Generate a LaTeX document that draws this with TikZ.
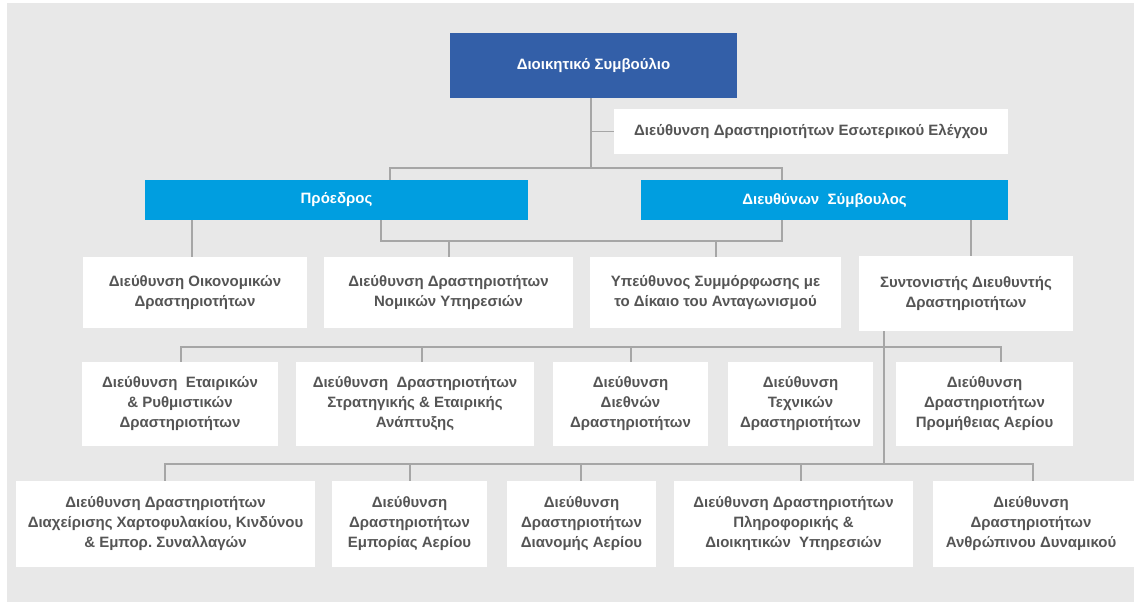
\documentclass[tikz,border=0pt]{standalone}
\usepackage{fontspec}
\setmainfont{Liberation Sans}
\frenchspacing
\definecolor{bgc}{HTML}{E8E8E8}
\definecolor{navy}{HTML}{335FA8}
\definecolor{sky}{HTML}{009EE0}
\definecolor{linec}{HTML}{A6A6A6}
\definecolor{txt}{HTML}{555555}
\pgfdeclarelayer{back}
\pgfdeclarelayer{lines}
\pgfsetlayers{back,lines,main}
\tikzset{
  box/.style={fill=white, text=txt, font=\bfseries\fontsize{15}{20}\selectfont, align=center, inner sep=0pt, anchor=center},
  topbox/.style={fill=navy, text=white, font=\bfseries\fontsize{15}{20}\selectfont, align=center, inner sep=0pt, anchor=center},
  bluebox/.style={fill=sky, text=white, font=\bfseries\fontsize{15}{20}\selectfont, align=center, inner sep=0pt, anchor=center},
  conn/.style={draw=linec, line width=1.5pt}
}
\begin{document}
\begin{tikzpicture}[x=1pt,y=-1pt]
\useasboundingbox (0,0) rectangle (1134,602);
\begin{pgfonlayer}{back}
\fill[white] (0,0) rectangle (1134,602);
\fill[bgc] (7,3) rectangle (1134,602);
\end{pgfonlayer}

% top level
\node[topbox, minimum width=287pt, minimum height=65pt] (ds) at (593.5,65.5) {Διοικητικό Συμβούλιο};
\node[box, minimum width=394pt, minimum height=45pt] (audit) at (811,131.5) {Διεύθυνση Δραστηριοτήτων Εσωτερικού Ελέγχου};
\node[bluebox, minimum width=383pt, minimum height=40pt] (pres) at (336.5,200) {Πρόεδρος};
\node[bluebox, minimum width=367pt, minimum height=40pt] (ceo) at (824.5,200) {Διευθύνων\ \ Σύμβουλος};

% row 1
\node[box, minimum width=224pt, minimum height=71pt] (r1a) at (195,292.5) {Διεύθυνση Οικονομικών\\Δραστηριοτήτων};
\node[box, minimum width=249pt, minimum height=71pt] (r1b) at (448.5,292.5) {Διεύθυνση Δραστηριοτήτων\\Νομικών Υπηρεσιών};
\node[box, minimum width=251pt, minimum height=71pt] (r1c) at (715.5,292.5) {Υπεύθυνος Συμμόρφωσης με\\το Δίκαιο του Ανταγωνισμού};
\node[box, minimum width=214pt, minimum height=75pt] (r1d) at (966,293.5) {Συντονιστής Διευθυντής\\Δραστηριοτήτων};

% row 2
\node[box, minimum width=196pt, minimum height=84pt] (r2a) at (180,404) {Διεύθυνση\ \ Εταιρικών\\\&~Ρυθμιστικών\\Δραστηριοτήτων};
\node[box, minimum width=238pt, minimum height=84pt] (r2b) at (415,404) {Διεύθυνση\ \ Δραστηριοτήτων\\Στρατηγικής \& Εταιρικής\\Ανάπτυξης};
\node[box, minimum width=155pt, minimum height=84pt] (r2c) at (630.5,404) {Διεύθυνση\\Διεθνών\\Δραστηριοτήτων};
\node[box, minimum width=145pt, minimum height=84pt] (r2d) at (800.5,404) {Διεύθυνση\\Τεχνικών\\Δραστηριοτήτων};
\node[box, minimum width=177pt, minimum height=84pt] (r2e) at (984.5,404) {Διεύθυνση\\Δραστηριοτήτων\\Προμήθειας Αερίου};

% row 3
\node[box, minimum width=299pt, minimum height=86pt] (r3a) at (165.5,524) {Διεύθυνση Δραστηριοτήτων\\Διαχείρισης Χαρτοφυλακίου, Κινδύνου\\\&~Εμπορ. Συναλλαγών};
\node[box, minimum width=155pt, minimum height=86pt] (r3b) at (409.5,524) {Διεύθυνση\\Δραστηριοτήτων\\Εμπορίας Αερίου};
\node[box, minimum width=149pt, minimum height=86pt] (r3c) at (581.5,524) {Διεύθυνση\\Δραστηριοτήτων\\Διανομής Αερίου};
\node[box, minimum width=239pt, minimum height=86pt] (r3d) at (793.5,524) {Διεύθυνση Δραστηριοτήτων\\Πληροφορικής \&\\Διοικητικών\ \ Υπηρεσιών};
\fill[white] (933,481) rectangle (1134,567);
\node[box, minimum width=196pt, minimum height=86pt] (r3e) at (1031,524) {Διεύθυνση\\Δραστηριοτήτων\\Ανθρώπινου Δυναμικού};

% junction coordinates
\coordinate (jTop) at (591,168);
\coordinate (jL) at (390,168);
\coordinate (jR) at (782,168);
\coordinate (k1) at (381,241);
\coordinate (k2) at (782,241);
\coordinate (kb) at (449,241);
\coordinate (kc) at (716,241);
\coordinate (pa) at (192,0);
\coordinate (cd) at (971,0);
\coordinate (tr) at (884,464);
\coordinate (b2a) at (181,347);
\coordinate (b2b) at (422,347);
\coordinate (b2c) at (631,347);
\coordinate (b2e) at (1001,347);
\coordinate (b3a) at (165,464);
\coordinate (b3b) at (410,464);
\coordinate (b3c) at (581,464);
\coordinate (b3d) at (801,464);
\coordinate (b3e) at (1033,464);

\begin{pgfonlayer}{lines}
\draw[conn] (ds.south -| jTop) -- (jTop);
\draw[conn] (jTop |- audit.west) -- (audit.west);
\draw[conn] (pres.north -| jL) -- (jL) -- (jR) -- (ceo.north -| jR);
\draw[conn] (pres.south -| k1) -- (k1) -- (k2) -- (ceo.south -| k2);
\draw[conn] (kb) -- (kb |- r1b.north);
\draw[conn] (kc) -- (kc |- r1c.north);
\draw[conn] (pres.south -| pa) -- (pa |- r1a.north);
\draw[conn] (ceo.south -| cd) -- (cd |- r1d.north);
\draw[conn] (r1d.south -| tr) -- (tr);
\draw[conn] (b2a |- r2a.north) -- (b2a) -- (b2e) -- (b2e |- r2e.north);
\draw[conn] (b2b) -- (b2b |- r2b.north);
\draw[conn] (b2c) -- (b2c |- r2c.north);
\draw[conn] (b3a |- r3a.north) -- (b3a) -- (b3e) -- (b3e |- r3e.north);
\draw[conn] (b3b) -- (b3b |- r3b.north);
\draw[conn] (b3c) -- (b3c |- r3c.north);
\draw[conn] (b3d) -- (b3d |- r3d.north);
\end{pgfonlayer}
\end{tikzpicture}
\end{document}
